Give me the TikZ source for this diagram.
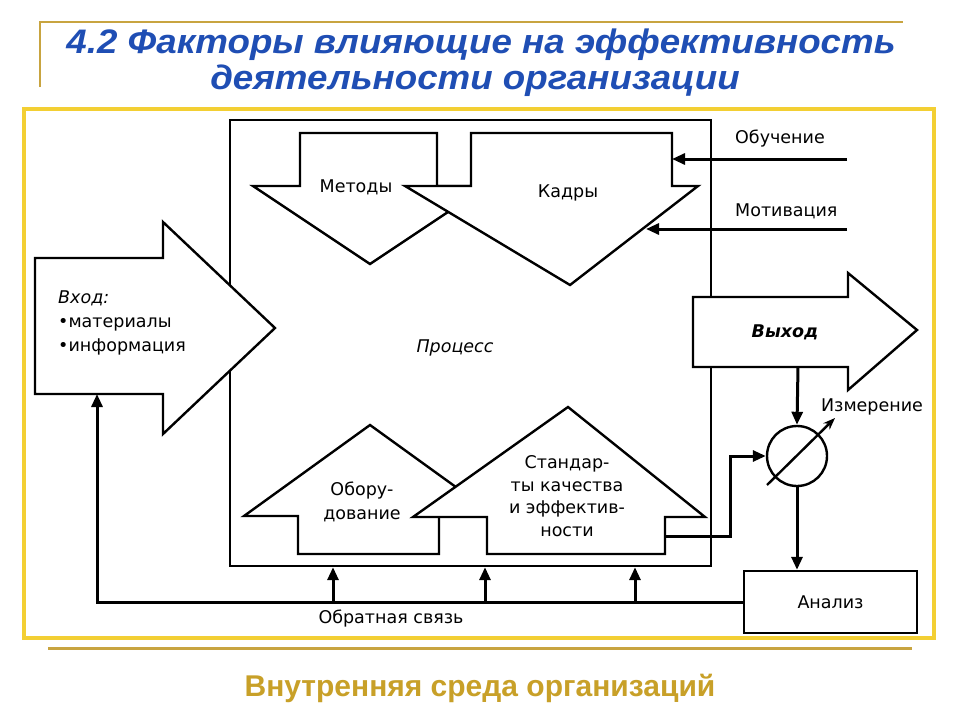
\documentclass[tikz,border=0pt]{standalone}
\usepackage{fontspec}
\setmainfont{DejaVu Sans}
\newfontfamily\titlefont{Liberation Sans}
\usetikzlibrary{arrows.meta,calc}
\definecolor{ybox}{HTML}{F3CF33}
\definecolor{gold}{HTML}{C8A440}
\definecolor{goldtext}{HTML}{C8A028}
\definecolor{tblue}{HTML}{1F4EB4}
\tikzset{
  blockarrow/.style={draw=black, line width=2.4, fill=white, line join=miter},
  conn/.style={draw=black, line width=3, -{Triangle[length=13,width=11]}},
  fbline/.style={draw=black, line width=3},
  lbl/.style={font=\fontsize{17.5}{21}\selectfont, inner sep=0, align=center},
  titletext/.style={font=\titlefont\bfseries\itshape\fontsize{34}{36}\selectfont, text=tblue, inner sep=0, xscale=1.08},
}
\begin{document}
\begin{tikzpicture}[x=1pt,y=-1pt]
\useasboundingbox[fill=white] (0,0) rectangle (960,720);
% title decorations
\draw[gold, line width=2] (40,87) -- (40,22) -- (903,22);
\node[titletext] (t1) at (481,45) {4.2 Факторы влияющие на эффективность};
\node[titletext] (t2) at (475,81) {деятельности организации};
% yellow frame
\draw[ybox, line width=4.5, fill=white] (24,109) rectangle (934,638);
\draw[gold, line width=3] (48,648) -- (912,648);
\node[font=\titlefont\bfseries\fontsize{30}{32}\selectfont, text=goldtext, inner sep=0] (sub) at (480,688) {Внутренняя среда организаций};
% process box
\node[draw=black, line width=2.4, minimum width=481, minimum height=446, inner sep=0] (pb) at (470.5,343) {};
% input arrow
\draw[blockarrow] (35,258) -- (163,258) -- (163,222) -- (275,328) -- (163,434) -- (163,394) -- (35,394) -- cycle;
\coordinate (inB) at (97,394);
% output arrow
\draw[blockarrow] (693,297) -- (848,297) -- (848,273) -- (917,330) -- (848,390) -- (848,367) -- (693,367) -- cycle;
\coordinate (vyhB) at (798,367);
% Методы
\draw[blockarrow] (300,133) -- (437,133) -- (437,186) -- (487,186) -- (370,264) -- (253,186) -- (300,186) -- cycle;
% Кадры
\draw[blockarrow] (471,133) -- (672,133) -- (672,186) -- (698,186) -- (570,285) -- (405,186) -- (471,186) -- cycle;
\coordinate (kadR) at (672,159);
\coordinate (kadD) at (646,229);
% Оборудование
\draw[blockarrow] (298,554) -- (439,554) -- (439,516) -- (496,516) -- (370,425) -- (244,516) -- (298,516) -- cycle;
% Стандарты
\draw[blockarrow] (487,554) -- (665,554) -- (665,517) -- (705,517) -- (568,407) -- (413,517) -- (487,517) -- cycle;
\coordinate (stdR) at (665,536);
\coordinate (elbow) at (730,536);
% measurement
\node[draw=black, circle, line width=2.4, minimum size=60, inner sep=0] (meas) at (797,456) {};
\node[draw=black, line width=2.4, minimum width=173, minimum height=62, inner sep=0, font=\fontsize{17.5}{21}\selectfont] (an) at (830.5,602) {Анализ};
% external inputs
\coordinate (obR) at (847,159);
\coordinate (moR) at (847,229);
\draw[conn] (obR) -- (kadR);
\draw[conn] (moR) -- (kadD);
% connectors
\draw[conn] (vyhB) -- (meas.north);
\draw[line width=2.4, -{Stealth[length=12,width=9]}] ($(meas)+(-30,29)$) -- ($(meas)+(38,-38)$);
\draw[conn] (meas.south) -- (meas.south |- an.north);
\draw[conn] (stdR) -- (elbow) |- (meas.west);
\draw[conn] (an.west) -| (inB);
\coordinate (fb1) at (333,602);
\coordinate (fb2) at (485,602);
\coordinate (fb3) at (635,602);
\draw[conn] (fb1) -- (fb1 |- pb.south);
\draw[conn] (fb2) -- (fb2 |- pb.south);
\draw[conn] (fb3) -- (fb3 |- pb.south);
% labels
\node[lbl] (lmet) at (356,187) {Методы};
\node[lbl] (lkad) at (568,193) {Кадры};
\node[lbl, anchor=west] (lob) at (735,139) {Обучение};
\node[lbl, anchor=west] (lmot) at (735,211) {Мотивация};
\node[lbl, anchor=west, align=left, font=\fontsize{17.5}{24}\selectfont] (lin) at (58,323) {\textit{Вход:}\\•материалы\\•информация};
\node[lbl, font=\fontsize{17.5}{21}\selectfont\itshape] (lproc) at (455,348) {Процесс};
\node[lbl, font=\fontsize{17.5}{21}\selectfont\bfseries\itshape] (lvyh) at (785,332) {Выход};
\node[lbl] (lizm) at (872,407) {Измерение};
\node[lbl, font=\fontsize{17.5}{24}\selectfont] (lobo) at (362,502) {Обору-\\дование};
\node[lbl, font=\fontsize{17.5}{22.7}\selectfont] (lstd) at (567,496) {Стандар-\\ты качества\\и эффектив-\\ности};
\node[lbl] (lfb) at (391,619) {Обратная связь};
\end{tikzpicture}
\end{document}
